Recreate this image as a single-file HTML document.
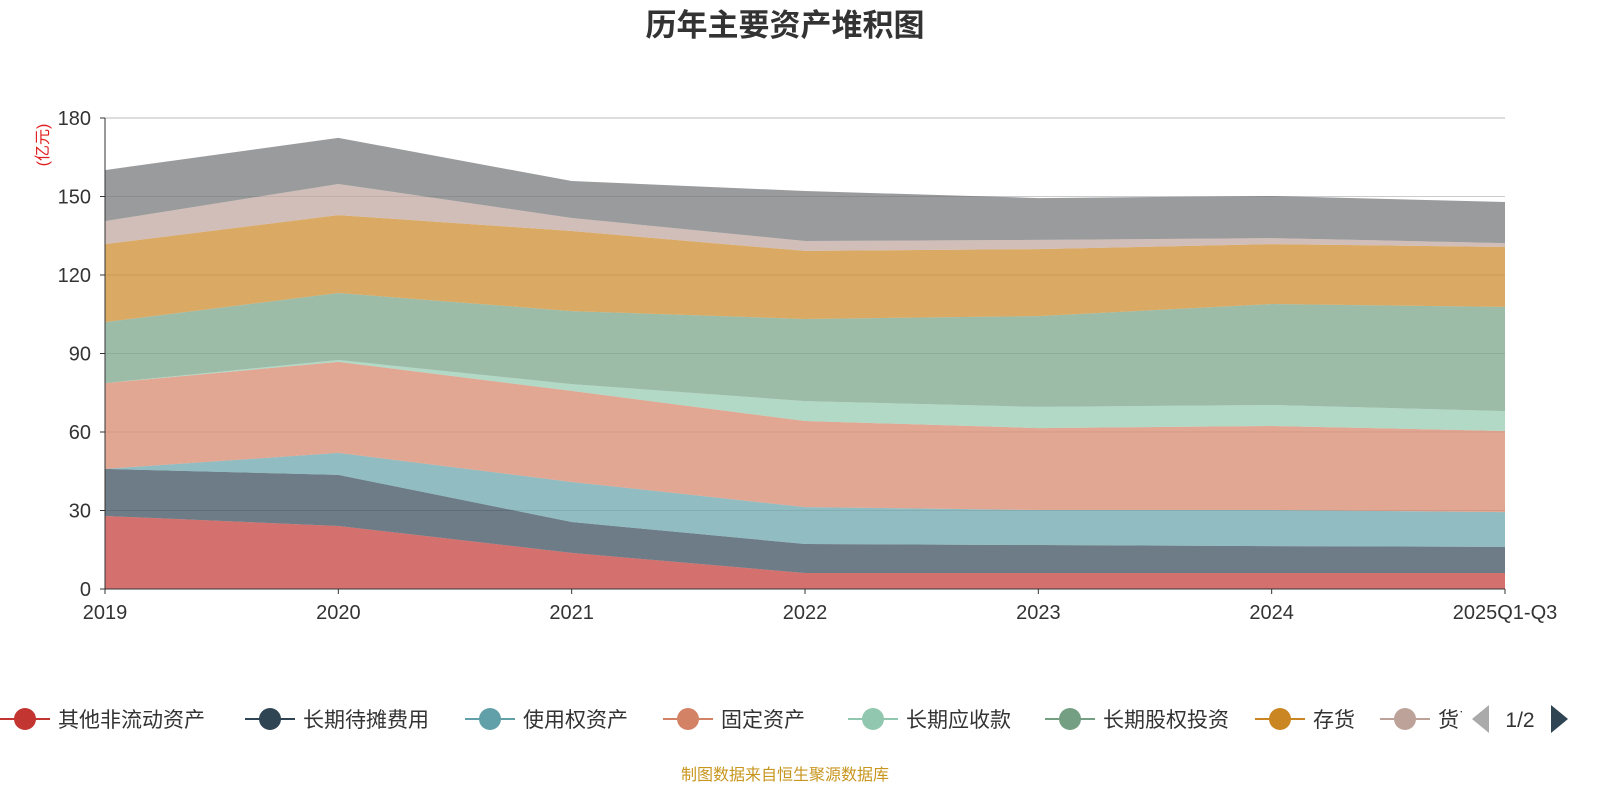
<!DOCTYPE html>
<html><head><meta charset="utf-8">
<style>
body{margin:0;background:#fff;width:1600px;height:800px;overflow:hidden;font-family:"Liberation Sans","Noto Sans CJK SC",sans-serif;}
svg text{font-family:"Liberation Sans","Noto Sans CJK SC",sans-serif;}
</style></head>
<body>
<svg id="chart" width="1600" height="800">
<text x="785" y="36" text-anchor="middle" font-size="31" font-weight="bold" fill="#333">历年主要资产堆积图</text>
<text transform="translate(48,145) rotate(-90)" text-anchor="middle" font-size="16" fill="#e02020">(亿元)</text>
<g id="grid"></g>
<g id="areas"></g>
<g id="axes"></g>
<g id="legend"></g>
<text x="785" y="780" text-anchor="middle" font-size="16" fill="#c8961e">制图数据来自恒生聚源数据库</text>
</svg>
<script>
const categories=["2019","2020","2021","2022","2023","2024","2025Q1-Q3"];
const seriesNames=["其他非流动资产","长期待摊费用","使用权资产","固定资产","长期应收款","长期股权投资","存货","货币资金","其他"];
const s1=[27.9,24.1,13.8,6.1,6.1,6.1,6.1];
const s2=[18.0,19.5,11.8,11.1,10.7,10.3,10.0];
const s3=[0.0,8.4,15.3,14.1,13.4,13.8,13.3];
const s4=[32.8,34.8,34.8,32.9,31.3,32.1,31.0];
const s5=[0.0,0.7,2.6,7.6,8.1,8.0,7.6];
const s6=[23.3,25.6,27.9,31.4,34.7,38.6,39.8];
const s7=[29.8,29.8,30.6,26.0,25.6,22.9,22.9];
const s8=[8.8,11.9,5.0,3.8,3.5,2.3,1.5];
const s9=[19.5,17.6,14.1,19.1,16.0,16.1,15.7];
const yTicks=[0,30,60,90,120,150,180];
const series=[s1,s2,s3,s4,s5,s6,s7,s8,s9];
const colors=["#c23531","#2f4554","#61a0a8","#d48265","#91c7ae","#749f83","#ca8622","#bda29a","#6e7074"];
const NS="http://www.w3.org/2000/svg";
const X0=105,X1=1505,Y0=589,Y1=118;
const xs=i=>X0+(X1-X0)*i/(categories.length-1);
const ys=v=>Y0-(Y0-Y1)*v/180;
function mk(t,a,p){const e=document.createElementNS(NS,t);for(const k in a)e.setAttribute(k,a[k]);p.appendChild(e);return e;}
const grid=document.getElementById('grid');
yTicks.forEach(v=>{
 if(v===0)return;
 const l=mk('line',{x1:X0,x2:X1,y1:ys(v),y2:ys(v),stroke:v===180?'#bbb':'#ccc','stroke-width':1},grid);
 
 
});
const areas=document.getElementById('areas');
let base=categories.map(()=>0);
series.forEach((s,k)=>{
 const top=base.map((b,i)=>b+s[i]);
 let d='M'+categories.map((c,i)=>xs(i)+','+ys(top[i])).join('L');
 for(let i=categories.length-1;i>=0;i--)d+='L'+xs(i)+','+ys(base[i]);
 d+='Z';
 const p=mk('path',{d:d,fill:colors[k],'fill-opacity':0.7,stroke:'none'},areas);
 
 
 base=top;
});
const axes=document.getElementById('axes');
mk('line',{x1:X0,x2:X0,y1:Y1,y2:Y0,stroke:'#333','stroke-width':1},axes);
mk('line',{x1:X0,x2:X1,y1:Y0,y2:Y0,stroke:'#333','stroke-width':1},axes);
yTicks.forEach(v=>{
 mk('line',{x1:X0-5,x2:X0,y1:ys(v),y2:ys(v),stroke:'#333'},axes);
 const t=mk('text',{x:X0-14,y:ys(v)+7,'text-anchor':'end','font-size':20,fill:'#333'},axes);
 t.textContent=v;
 
 
});
categories.forEach((c,i)=>{
 mk('line',{x1:xs(i),x2:xs(i),y1:Y0,y2:Y0+5,stroke:'#333'},axes);
 const t=mk('text',{x:xs(i),y:Y0+30,'text-anchor':'middle','font-size':20,fill:'#333'},axes);
 t.textContent=c;
 
 
});
const legend=document.getElementById('legend');
const lx=[0,245,465,663,848,1045,1255,1380];
lx.forEach((x,k)=>{
 const g=mk('g',{},legend);
 
 
 mk('line',{x1:x,x2:x+50,y1:719,y2:719,stroke:colors[k],'stroke-width':2},g);
 mk('circle',{cx:x+25,cy:719,r:11,fill:colors[k]},g);
 const t=mk('text',{x:x+58,y:727,'font-size':21,fill:'#333'},g);
 t.textContent=seriesNames[k];
});
mk('rect',{x:1462,y:690,width:138,height:60,fill:'#fff'},legend);
const pl=mk('path',{d:'M1472,719L1489,705L1489,733Z',fill:'#aaa'},legend);


const pt=mk('text',{x:1520,y:727,'text-anchor':'middle','font-size':21,fill:'#333'},legend);
pt.textContent='1/2';
const pr=mk('path',{d:'M1551,705L1568,719L1551,733Z',fill:'#2f4554'},legend);


</script>
</body></html>
